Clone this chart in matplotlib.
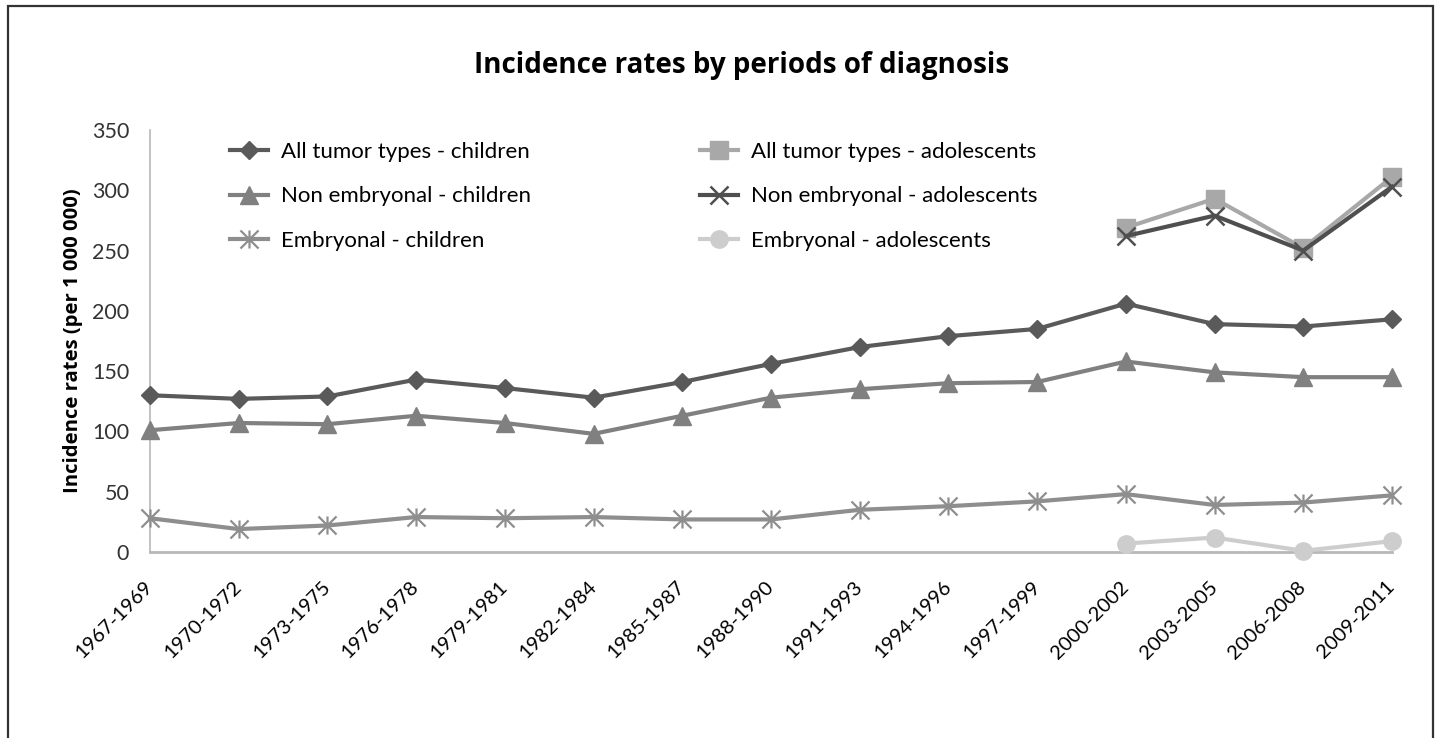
import numpy as np
import matplotlib
matplotlib.use("Agg")
import matplotlib.pyplot as plt
import matplotlib.transforms as mtransforms
from matplotlib.path import Path
from matplotlib.patches import Rectangle

periods = ["1967-1969", "1970-1972", "1973-1975", "1976-1978", "1979-1981",
           "1982-1984", "1985-1987", "1988-1990", "1991-1993", "1994-1996",
           "1997-1999", "2000-2002", "2003-2005", "2006-2008", "2009-2011"]

all_children = [130, 127, 129, 143, 136, 128, 141, 156, 170, 179, 185, 206, 189, 187, 193]
nonemb_children = [101, 107, 106, 113, 107, 98, 113, 128, 135, 140, 141, 158, 149, 145, 145]
emb_children = [28, 19, 22, 29, 28, 29, 27, 27, 35, 38, 42, 48, 39, 41, 47]

# adolescents only from 2000-2002 on
adol_periods = ["2000-2002", "2003-2005", "2006-2008", "2009-2011"]
all_adol = [269, 293, 252, 311]
nonemb_adol = [262, 279, 250, 303]
emb_adol = [7, 12, 1, 9]

# excel style asterisk (x plus vertical bar)
asterisk = Path([(0, -1), (0, 1), (-1, -1), (1, 1), (-1, 1), (1, -1)],
                [Path.MOVETO, Path.LINETO, Path.MOVETO, Path.LINETO, Path.MOVETO, Path.LINETO])

fig = plt.figure(figsize=(14.38, 7.38), dpi=100)
ax = fig.add_axes([150/1438, 186/738, 1242/1438, 422/738])

x = np.arange(len(periods))
xa = np.array([periods.index(p) for p in adol_periods])

lw = 3.0
series = [
    (x, all_children, "All tumor types - children", dict(color="#5a5a5a", marker="D", ms=9.5)),
    (x, nonemb_children, "Non embryonal - children", dict(color="#808080", marker="^", ms=13)),
    (x, emb_children, "Embryonal - children", dict(color="#8e8e8e", marker=asterisk, ms=13, mew=1.6)),
    (xa, all_adol, "All tumor types - adolescents", dict(color="#a8a8a8", marker="s", ms=12.5)),
    (xa, nonemb_adol, "Non embryonal - adolescents", dict(color="#4f4f4f", marker="x", ms=13, mew=1.8)),
    (xa, emb_adol, "Embryonal - adolescents", dict(color="#cdcdcd", marker="o", ms=12.5)),
]
handles = []
for xs, ys, lab, st in series:
    h, = ax.plot(xs, ys, lw=lw, label=lab, clip_on=False, zorder=3, **st)
    handles.append(h)

ax.set_xlim(0, 14)
ax.set_ylim(0, 350)
ax.set_yticks(range(0, 351, 50))
ax.set_xticks(x)
ax.set_xticklabels(periods, rotation=45, ha="right", va="center", rotation_mode="anchor",
                   fontsize=14.5, family="Lato", color="#000000")
shift = mtransforms.ScaledTranslation(6/100, 0, fig.dpi_scale_trans)
for t in ax.get_xticklabels():
    t.set_transform(t.get_transform() + shift)
for t in ax.get_yticklabels():
    t.set_fontsize(15.5)
    t.set_family("Lato")
    t.set_color("#333333")
ax.tick_params(axis="y", length=0, pad=15)
ax.tick_params(axis="x", length=0, pad=23)

for s in ["top", "right"]:
    ax.spines[s].set_visible(False)
ax.spines["left"].set_color("#b8b8b8")
ax.spines["bottom"].set_color("#b8b8b8")
ax.spines["left"].set_linewidth(1.2)
ax.spines["bottom"].set_linewidth(2)

ax.set_ylabel("Incidence rates (per 1 000 000)", fontsize=14.6, fontweight="bold",
              family="Open Sans", labelpad=6)
fig.text(742/1438, 1 - 66/738, "Incidence rates by periods of diagnosis",
         ha="center", va="center", fontsize=20, fontweight="bold", family="Open Sans")

ax.legend(handles=handles, ncol=2, loc="upper left",
          bbox_to_anchor=((230 - 150)/1242, (552 - 142)/422),
          frameon=False, borderpad=0, borderaxespad=0,
          handlelength=1.7, handletextpad=0.6, labelspacing=1.1, columnspacing=7.6,
          prop={"family": "Lato", "size": 16})

# outer frame, cut off at the bottom like the original
fig.patches.append(Rectangle((8/1438, -0.05), (1433 - 8)/1438, 1.05 - 6/738,
                             transform=fig.transFigure, fill=False,
                             edgecolor="#333333", lw=1.6))

fig.savefig("out.png", dpi=100)
